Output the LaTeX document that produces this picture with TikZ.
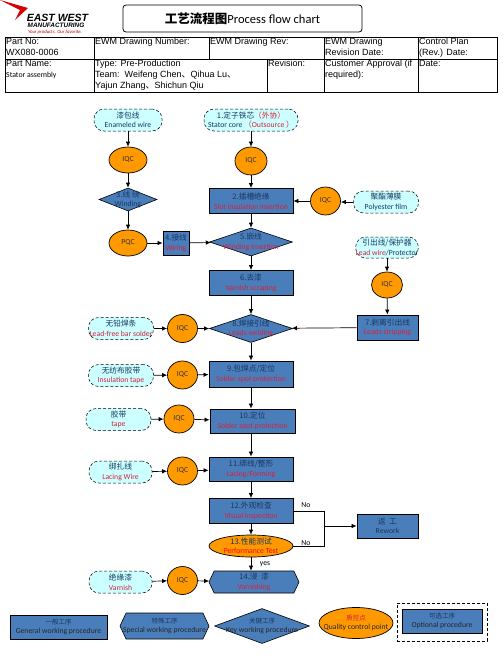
\documentclass[tikz,border=0pt]{standalone}
\usepackage{fontspec}
\setmainfont{Carlito}
\newfontfamily\cjk{Noto Sans CJK SC}
\newfontfamily\tablefont{Liberation Sans}
\usepackage{tikz}
\usetikzlibrary{arrows.meta, positioning, shapes.geometric, shapes.symbols}
\definecolor{boxBlue}{HTML}{4A7EBB}
\definecolor{cnBlue}{HTML}{17375E}
\definecolor{enRed}{HTML}{D8203C}
\definecolor{qcOrange}{HTML}{FF9900}
\definecolor{paleCyan}{HTML}{CCFFFF}
\newcommand{\stepcn}[2]{{\cjk\color{cnBlue}#1}\\[-1pt]{\color{enRed}#2}}
\newcommand{\legendcn}[2]{{\cjk\fontsize{6.5}{7}\selectfont\color{cnBlue}#1}\\[-1pt]{\color{black!85}#2}}

\begin{document}
\begin{tikzpicture}[x=1pt, y=-1pt, font=\fontsize{7.7}{10.5}\selectfont,
  stepbox/.style={draw=black, fill=boxBlue, line width=0.8pt, align=center, inner sep=0pt, minimum width=84pt, minimum height=25pt},
  keybox/.style={diamond, aspect=3, draw=black, fill=boxBlue, line width=0.6pt, align=center, inner xsep=-30pt, inner ysep=-6pt, minimum width=83pt, minimum height=28pt},
  hexbox/.style={signal, signal to=west and east, signal pointer angle=130, draw=black, fill=boxBlue, line width=0.6pt, align=center, inner xsep=-8pt, inner ysep=-3pt},
  supply/.style={draw=black, densely dashed, rounded corners=10pt, fill=paleCyan, line width=0.5pt, align=center, inner sep=0pt, minimum height=22pt},
  qc/.style={ellipse, draw=black, fill=qcOrange, line width=0.7pt, align=center, inner xsep=-20pt, inner ysep=-6pt, minimum width=30pt, minimum height=28pt},
  flow/.style={line width=0.7pt, -{Latex[length=5pt,width=4.5pt]}},
  plain/.style={line width=0.7pt},
  tcell/.style={font=\tablefont\fontsize{9}{11}\selectfont, anchor=north west, inner sep=0pt, align=left},
]
  \useasboundingbox (0,0) rectangle (503,670);

  % logo
  \fill[red!85!black] (0,0) -- (28,8) -- (15,20) -- (20,10) -- cycle;
  \node[inner sep=0pt, font=\tablefont\bfseries\itshape\fontsize{10.5}{10.5}\selectfont] (logoA) at (57.5,18) {EAST WEST};
  \node[inner sep=0pt, font=\tablefont\bfseries\itshape\fontsize{6.4}{7}\selectfont] (logoB) at (56,25.5) {MANUFACTURING};
  \node[inner sep=0pt, font=\itshape\fontsize{4.8}{5}\selectfont, text=red!70!black] (logoC) at (55,32.5) {Your products. Our favorite.};

  % title and table
  \node[draw=black, rounded corners=3pt, line width=0.8pt, minimum width=239pt, minimum height=27pt, inner sep=0pt, font=\fontsize{12.5}{14}\selectfont] (title) at (242.5,18.5) {{\cjk\bfseries 工艺流程图}Process flow chart};
  \draw[line width=0.7pt] (5,37) rectangle (497,92) (5,59) -- (497,59);
  \draw[line width=0.7pt] (94,37) -- (94,92) (209,37) -- (209,59) (267,59) -- (267,92) (324,37) -- (324,92) (418,37) -- (418,92);
  \node[tcell] (no) at (6,38) {Part No:\\WX080-0006};
  \node[tcell] (dnum) at (95,38) {EWM Drawing Number:};
  \node[tcell] (drev) at (210,38) {EWM Drawing Rev:};
  \node[tcell] (rdate) at (325,38) {EWM Drawing\\Revision Date:};
  \node[tcell] (cplan) at (419,38) {Control Plan\\(Rev.) Date:};
  \node[tcell] (pname) at (6,60) {Part Name:\\{\rmfamily\fontsize{7.8}{11}\selectfont Stator assembly}};
  \node[tcell] (team) at (95,60) {Type: Pre-Production\\Team:\ \ Weifeng Chen{\cjk、}Qihua Lu{\cjk、}\\Yajun Zhang{\cjk、}Shichun Qiu};
  \node[tcell] (rev) at (268,60) {Revision:};
  \node[tcell] (cust) at (325,60) {Customer Approval (if\\required):};
  \node[tcell] (date) at (419,60) {Date:};

  % left column
  \node[supply, minimum width=68pt] (wire) at (128,120) {{\cjk\color{cnBlue}漆包线}\\[-1pt]{\color{cnBlue}Enameled wire}};
  \node[qc, minimum width=38pt, minimum height=26pt] (iqcA) at (128,160) {\color{black!80}IQC};
  \node[keybox, minimum width=58pt, minimum height=23pt] (winding) at (128,199.5) {\stepcn{3.线 绕}{\color{cnBlue}Winding}};
  \node[qc, minimum width=38pt, minimum height=26pt] (pqc) at (128,243) {\color{black!80}PQC};
  \node[stepbox, minimum width=26pt, minimum height=24pt] (wiring) at (176,243) {\stepcn{4.接线}{Wiring}};

  % center column
  \node[supply, minimum width=94pt] (core) at (251,120) {{\cjk\color{cnBlue}1.定子铁芯{\color{enRed}（外协）}}\\[-1pt]{\color{cnBlue}Stator core {\color{enRed}{\cjk （}Outsource {\cjk ）}}}};
  \node[qc, minimum width=32pt] (iqcB) at (251,161) {\color{black!80}IQC};
  \node[stepbox] (slot) at (251,201) {\stepcn{2.插槽绝缘}{Slot insulation insertion}};
  \node[keybox] (insert) at (251,242) {\stepcn{5.嵌线}{Winding insertion}};
  \node[stepbox] (scrape) at (251,283) {\stepcn{6.去漆}{Varnish scraping}};
  \node[keybox] (weld) at (251,328.5) {\stepcn{8.焊接引线}{Leads welding}};
  \node[stepbox, minimum height=26pt] (spot) at (251,374) {\stepcn{9.包焊点/定位}{Solder spot protection}};
  \node[stepbox, minimum width=85pt, minimum height=24pt] (spotB) at (252.5,421) {\stepcn{10.定位}{Solder spot protection}};
  \node[stepbox, minimum height=24pt] (lacing) at (251,469) {\stepcn{11.绑线/整形}{Lacing/Forming}};
  \node[stepbox] (visual) at (251,511) {\stepcn{12.外观检查}{Visual Inspection}};
  \node[ellipse, draw=black, fill=qcOrange, line width=0.7pt, align=center, inner xsep=-20pt, inner ysep=-6pt, minimum width=84pt, minimum height=22pt] (perf) at (251,546) {{\cjk\color{cnBlue}13.性能测试}\\[-1pt]{\color{red}Performance Test}};
  \node[hexbox, minimum width=90pt, minimum height=22pt] (varnishing) at (254,582) {\stepcn{14.浸\ \ 漆}{Varnishing}};

  % right column
  \node[qc] (iqcC) at (325.5,201) {\color{black!80}IQC};
  \node[supply, minimum width=65pt] (film) at (386,202) {{\cjk\color{cnBlue}聚酯薄膜}\\[-1pt]{\color{cnBlue}Polyester film}};
  \node[supply, minimum width=60pt, minimum height=21pt] (lead) at (387,247.5) {{\cjk\color{cnBlue}引出线/保护器}\\[-1pt]{\color{enRed}Lead wire}{\color{cnBlue}/Protector}};
  \node[qc, minimum width=31pt, minimum height=26pt] (iqcD) at (387,285) {\color{black!80}IQC};
  \node[stepbox, minimum width=61pt] (strip) at (387.5,327.5) {\stepcn{7.剥离引出线}{Leads stripping}};
  \node[stepbox, minimum width=61pt, minimum height=24pt] (rework) at (387.5,526) {{\cjk\color{cnBlue}返\ \ 工}\\[-1pt]{\color{cnBlue}Rework}};

  % material feeds
  \node[supply, minimum width=65pt] (solder) at (121,328.5) {{\cjk\color{cnBlue}无铅焊条}\\[-1pt]{\color{enRed}Lead-free bar solder}};
  \node[qc] (iqcE) at (182.5,328.5) {\color{black!80}IQC};
  \node[supply, minimum width=65pt] (tapeA) at (121,375.5) {{\cjk\color{cnBlue}无纺布胶带}\\[-1pt]{\color{enRed}Insulation tape}};
  \node[qc] (iqcF) at (182.5,375) {\color{black!80}IQC};
  \node[supply, minimum width=65pt] (tapeB) at (118.5,419.5) {{\cjk\color{cnBlue}胶带}\\[-1pt]{\color{enRed}tape}};
  \node[qc] (iqcG) at (179,419) {\color{black!80}IQC};
  \node[supply, minimum width=63pt] (lace) at (120.5,472) {{\cjk\color{cnBlue}绑扎线}\\[-1pt]{\color{enRed}Lacing Wire}};
  \node[qc] (iqcH) at (182.5,471) {\color{black!80}IQC};
  \node[supply, minimum width=63pt] (varnish) at (120.5,582) {{\cjk\color{cnBlue}绝缘漆}\\[-1pt]{\color{enRed}Varnish}};
  \node[qc] (iqcI) at (182.5,580.5) {\color{black!80}IQC};

  \coordinate (jn) at (324,526);
  \node[inner sep=0pt] (noA) at (306,505.5) {No};
  \node[inner sep=0pt] (noB) at (306,543) {No};
  \node[inner sep=0pt] (yes) at (265,564) {yes};

  % legend
  \node[stepbox, minimum width=97pt, minimum height=24pt] (lgeneral) at (58.5,627) {\legendcn{一般工序}{General working procedure}};
  \node[hexbox, minimum width=89pt, minimum height=26pt] (lspecial) at (164.5,626) {\legendcn{特殊工序}{Special working procedure}};
  \node[keybox, minimum width=95pt, minimum height=35pt] (lkey) at (262,626) {\legendcn{关键工序}{Key working procedure}};
  \node[qc, minimum width=74pt, minimum height=31pt] (lquality) at (356,623) {{\cjk\fontsize{6.5}{7}\selectfont\color{enRed}质控点}\\[-1pt]{\color{black!85}Quality control point}};
  \node[stepbox, minimum width=80pt, minimum height=24pt] (loptional) at (442,621) {\legendcn{可选工序}{Optional procedure}};
  \node[draw=black, densely dashed, line width=0.8pt, inner sep=0pt, minimum width=90pt, minimum height=38pt] (ldash) at (442,622) {};

  % connectors
  \draw[flow] (wire) -- (iqcA);
  \draw[flow] (iqcA) -- (winding);
  \draw[flow] (winding) -- (pqc);
  \draw[flow] (pqc) -- (wiring);
  \draw[flow] (wiring) -- (insert);
  \draw[flow] (core) -- (iqcB);
  \draw[flow] (iqcB) -- (slot);
  \draw[flow] (slot) -- (insert);
  \draw[flow] (insert) -- (scrape);
  \draw[flow] (scrape) -- (weld);
  \draw[flow] (weld) -- (spot);
  \draw[flow] (spot.south) -- (spot.south |- spotB.north);
  \draw[flow] (spot.south |- spotB.south) -- (lacing.north);
  \draw[flow] (lacing) -- (visual);
  \draw[flow] (visual) -- (perf);
  \draw[flow] (perf.south) -- (perf.south |- varnishing.north);
  \draw[flow] (film.west) -- (iqcC.east |- film.west);
  \draw[flow] (iqcC.west) -- (slot.east |- iqcC.west);
  \draw[flow] (lead) -- (iqcD);
  \draw[flow] (iqcD) -- (strip);
  \draw[flow] (strip) -- (weld);
  \draw[flow] (solder) -- (iqcE);
  \draw[flow] (iqcE) -- (weld);
  \draw[flow] (tapeA) -- (iqcF);
  \draw[flow] (iqcF) -- (spot);
  \draw[flow] (tapeB) -- (iqcG);
  \draw[flow] (iqcG) -- (spotB);
  \draw[flow] (lace) -- (iqcH);
  \draw[flow] (iqcH) -- (lacing);
  \draw[flow] (varnish) -- (iqcI);
  \draw[flow] (iqcI) -- (varnishing);
  \draw[plain] (visual.east) -| (jn);
  \draw[plain] (perf.east) -| (jn);
  \draw[flow] (jn) -- (rework);
\end{tikzpicture}
\end{document}
